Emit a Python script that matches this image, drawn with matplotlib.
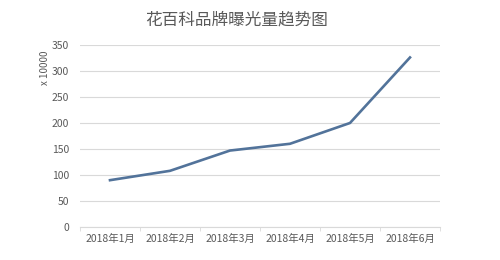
import matplotlib
matplotlib.use("Agg")
import matplotlib.pyplot as plt

plt.rcParams['font.family'] = ['Noto Sans CJK SC', 'DejaVu Sans']

categories = ["2018年1月", "2018年2月", "2018年3月", "2018年4月", "2018年5月", "2018年6月"]
values = [90, 108, 147, 160, 200, 326]
yticks = [0, 50, 100, 150, 200, 250, 300, 350]
title = "花百科品牌曝光量趋势图"
ylabel = "x 10000"

fig = plt.figure(figsize=(5, 2.6), dpi=100)
ax = fig.add_axes([0.16, 0.127, 0.72, 0.700])

x = list(range(len(categories)))
ax.plot(x, values, color="#52739a", linewidth=1.9, solid_joinstyle="round")

ax.set_xlim(-0.5, len(categories) - 0.5)
ax.set_ylim(0, 350)
ax.set_yticks(yticks)
ax.set_yticklabels([str(v) for v in yticks], fontsize=7.5, color="#595959")
ax.set_xticks(x)
ax.set_xticklabels(categories, fontsize=7.5, color="#595959")
ax.tick_params(axis='both', length=0, pad=8)
ax.tick_params(axis='x', pad=5)

# minor ticks at category boundaries on x axis
ax.set_xticks([i - 0.5 for i in range(len(categories) + 1)], minor=True)
ax.tick_params(axis='x', which='minor', length=3, color="#d9d9d9", direction='out')

ax.grid(axis='y', color="#d9d9d9", linewidth=0.8)
ax.set_axisbelow(True)
for s in ["top", "right", "left"]:
    ax.spines[s].set_visible(False)
ax.spines["bottom"].set_color("#d9d9d9")
ax.spines["bottom"].set_linewidth(0.8)

fig.text(0.474, 0.925, title, fontsize=12, color="#595959", ha="center", va="center")
fig.text(0.09, 0.74, ylabel, fontsize=7, color="#595959", rotation=90, ha="center", va="center")

fig.savefig("out.png", dpi=100, facecolor="white")
